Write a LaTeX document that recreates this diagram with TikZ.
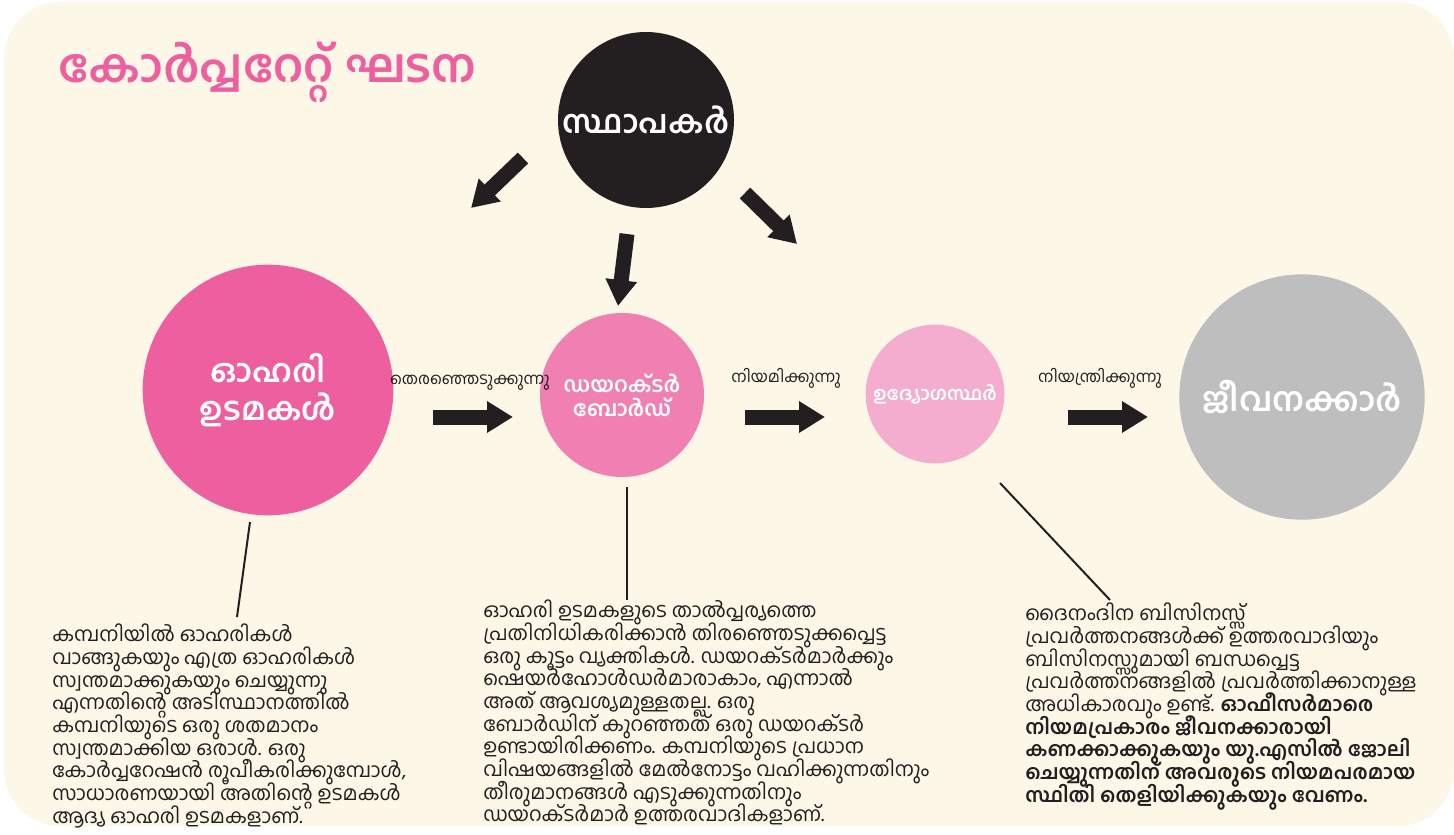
\documentclass[tikz,border=0pt]{standalone}
\usepackage{fontspec}
\setmainfont{Hind Kochi}[Script=Malayalam]
\usetikzlibrary{arrows.meta}
\definecolor{bg}{HTML}{FDF7E8}
\definecolor{ink}{HTML}{231F20}
\definecolor{pinkA}{HTML}{EE5FA0}
\definecolor{pinkB}{HTML}{F080B1}
\definecolor{pinkC}{HTML}{F4ADCE}
\definecolor{greyC}{HTML}{BEBEBE}
\newcommand{\tightlines}{\lineskiplimit=-100pt\relax\lineskip=0pt\relax}
\tikzset{
  circ/.style={circle, inner sep=0pt, text=white, font=\bfseries, align=center},
  blockarrow/.style={ink, line width=11.25pt, -{Triangle[length=19.5pt,width=22.5pt]}},
  leader/.style={ink, line width=1.5pt},
  lbl/.style={font=\fontsize{12}{14}\selectfont, text=ink, inner sep=0pt},
  para/.style={font=\fontsize{15}{17}\selectfont\tightlines, text=ink, align=left, anchor=north west, inner sep=0pt}
}
\begin{document}
\begin{tikzpicture}[x=0.75pt,y=-0.75pt]
\useasboundingbox (0,0) rectangle (1454,835);
\fill[bg, rounded corners=42pt] (4,2) rectangle (1454,826);

\node[font=\fontsize{35}{38}\selectfont\bfseries, text=pinkA, anchor=west, inner sep=0pt] (title) at (58,72) {കോർപ്പറേറ്റ് ഘടന};

\node[circ, fill=ink, minimum size=132pt, font=\fontsize{24}{28}\selectfont\bfseries] (founders) at (646,120) {സ്ഥാപകർ};
\node[circ, fill=pinkA, minimum size=188pt, font=\fontsize{24}{29}\selectfont\bfseries] (share) at (268,390) {ഓഹരി\\ഉടമകൾ};
\node[circ, fill=pinkB, minimum size=123pt, font=\fontsize{16}{18}\selectfont\bfseries] (board) at (622,395) {ഡയറക്ടർ\\ബോർഡ്};
\node[circ, fill=pinkC, minimum size=104pt, font=\fontsize{14}{16}\selectfont\bfseries] (officers) at (935,394) {ഉദ്യോഗസ്ഥർ};
\node[circ, fill=greyC, minimum size=184pt, font=\fontsize{25}{30}\selectfont\bfseries] (employees) at (1302,397) {ജീവനക്കാർ};

\coordinate (a1s) at (523,158); \coordinate (a1e) at (471,208);
\coordinate (a2s) at (627,234); \coordinate (a2e) at (618,306);
\coordinate (a3s) at (745,193); \coordinate (a3e) at (797,244);
\draw[blockarrow] (a1s) -- (a1e);
\draw[blockarrow] (a2s) -- (a2e);
\draw[blockarrow] (a3s) -- (a3e);

\coordinate (h1s) at (433,417); \coordinate (h1e) at (513,417);
\coordinate (h2s) at (745,417); \coordinate (h2e) at (825,417);
\coordinate (h3s) at (1068,417); \coordinate (h3e) at (1148,417);
\draw[blockarrow] (h1s) -- (h1e);
\draw[blockarrow] (h2s) -- (h2e);
\draw[blockarrow] (h3s) -- (h3e);

\node[lbl] (l1) at (470,383) {തെരഞ്ഞെടുക്കുന്നു};
\node[lbl] (l2) at (786,378) {നിയമിക്കുന്നു};
\node[lbl] (l3) at (1100,378) {നിയന്ത്രിക്കുന്നു};

\node[para] (t1) at (52,624) {കമ്പനിയിൽ ഓഹരികൾ\\
വാങ്ങുകയും എത്ര ഓഹരികൾ\\
സ്വന്തമാക്കുകയും ചെയ്യുന്നു\\
എന്നതിന്റെ അടിസ്ഥാനത്തിൽ\\
കമ്പനിയുടെ ഒരു ശതമാനം\\
സ്വന്തമാക്കിയ ഒരാൾ. ഒരു\\
കോർപ്പറേഷൻ രൂപീകരിക്കുമ്പോൾ,\\
സാധാരണയായി അതിന്റെ ഉടമകൾ\\
ആദ്യ ഓഹരി ഉടമകളാണ്.};

\node[para] (t2) at (483,600) {ഓഹരി ഉടമകളുടെ താൽപ്പര്യത്തെ\\
പ്രതിനിധികരിക്കാൻ തിരഞ്ഞെടുക്കപ്പെട്ട\\
ഒരു കൂട്ടം വ്യക്തികൾ. ഡയറക്ടർമാർക്കും\\
ഷെയർഹോൾഡർമാരാകാം, എന്നാൽ\\
അത് ആവശ്യമുള്ളതല്ല. ഒരു\\
ബോർഡിന് കുറഞ്ഞത് ഒരു ഡയറക്ടർ\\
ഉണ്ടായിരിക്കണം. കമ്പനിയുടെ പ്രധാന\\
വിഷയങ്ങളിൽ മേൽനോട്ടം വഹിക്കുന്നതിനും\\
തീരുമാനങ്ങൾ എടുക്കുന്നതിനും\\
ഡയറക്ടർമാർ ഉത്തരവാദികളാണ്.};

\node[para] (t3) at (1025,603) {ദൈനംദിന ബിസിനസ്സ്\\
പ്രവർത്തനങ്ങൾക്ക് ഉത്തരവാദിയും\\
ബിസിനസ്സുമായി ബന്ധപ്പെട്ട\\
പ്രവർത്തനങ്ങളിൽ പ്രവർത്തിക്കാനുള്ള\\
അധികാരവും ഉണ്ട്. \textbf{ഓഫീസർമാരെ}\\
\textbf{നിയമപ്രകാരം ജീവനക്കാരായി}\\
\textbf{കണക്കാക്കുകയും യു.എസിൽ ജോലി}\\
\textbf{ചെയ്യുന്നതിന് അവരുടെ നിയമപരമായ}\\
\textbf{സ്ഥിതി തെളിയിക്കുകയും വേണം.}};

\coordinate (c1s) at (250,522); \coordinate (c1) at (237,617);
\coordinate (c2s) at (627,487); \coordinate (c2) at (627,600);
\coordinate (c3s) at (1000,483); \coordinate (c3) at (1110,600);
\draw[leader] (c1s) -- (c1);
\draw[leader] (c2s) -- (c2);
\draw[leader] (c3s) -- (c3);
\end{tikzpicture}
\end{document}
